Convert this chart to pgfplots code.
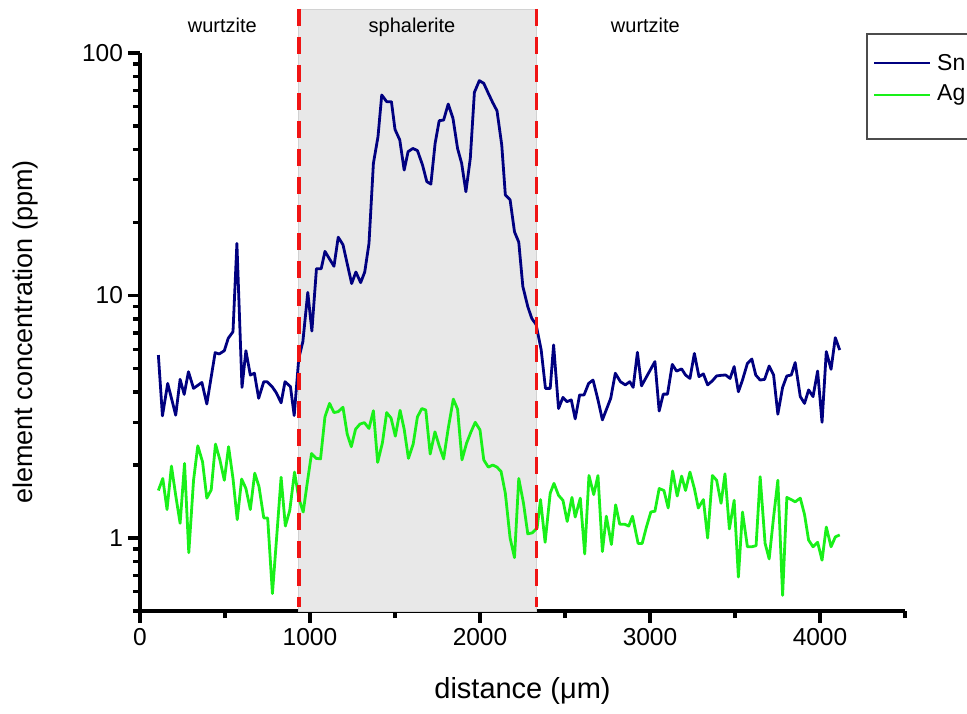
\documentclass[border=0pt]{standalone}
\usepackage{fontspec}
\setmainfont{Liberation Sans}
\usepackage{pgfplots}
\pgfplotsset{compat=1.18}
\definecolor{snblue}{RGB}{0,0,128}
\definecolor{aggreen}{RGB}{25,240,25}
\definecolor{redline}{RGB}{240,20,20}
\definecolor{regionfill}{RGB}{232,232,232}
\pgfplotstableread{
x y
108 5.68
132 3.19
163 4.34
210 3.21
236 4.51
260 3.91
285 4.85
315 4.14
364 4.38
393 3.57
442 5.81
466 5.74
496 5.92
519 6.66
547 7.09
570 16.4
600 4.18
623 5.92
649 4.70
673 4.78
698 3.77
728 4.41
747 4.41
777 4.21
802 3.97
830 3.61
853 4.41
885 4.21
907 3.20
934 5.51
958 6.45
987 10.3
1011 7.14
1038 12.9
1066 12.9
1088 15.2
1141 13.2
1166 17.4
1194 16.2
1245 11.2
1270 12.5
1298 11.3
1322 12.5
1347 16.4
1373 35.1
1400 45.2
1422 67.1
1451 63.0
1479 63.0
1500 48.4
1528 43.8
1554 32.9
1577 39.2
1605 40.4
1632 39.6
1662 34.5
1687 29.5
1711 28.8
1736 42.4
1760 52.6
1786 52.9
1813 61.6
1841 53.8
1868 40.4
1892 35.1
1917 26.8
1943 36.8
1967 68.8
1996 76.9
2022 75.0
2049 68.2
2075 62.4
2100 57.8
2128 41.7
2149 26.0
2177 24.8
2203 18.3
2228 16.6
2252 10.9
2281 9.0
2305 8.03
2330 7.6
2360 5.96
2385 4.14
2413 4.14
2433 6.25
2462 3.42
2488 3.80
2511 3.65
2537 3.71
2560 3.10
2586 3.89
2612 3.89
2639 4.34
2665 4.48
2694 3.71
2720 3.07
2769 3.77
2796 4.78
2826 4.41
2855 4.28
2881 4.41
2901 4.18
2926 5.83
2950 4.24
3029 5.34
3054 3.34
3078 3.92
3103 3.92
3131 5.20
3156 4.88
3186 4.98
3209 4.70
3235 4.55
3261 5.77
3288 4.63
3314 4.75
3339 4.28
3367 4.45
3392 4.66
3422 4.69
3445 4.70
3471 4.55
3495 5.09
3520 4.01
3544 4.48
3573 5.25
3599 5.47
3622 4.70
3648 4.48
3674 4.51
3701 5.12
3727 4.70
3752 3.24
3780 4.18
3805 4.66
3831 4.70
3854 5.29
3884 3.83
3909 3.59
3933 4.08
3959 3.83
3986 4.88
4012 3.00
4037 5.87
4065 4.96
4090 6.70
4116 5.96
}\sndata
\pgfplotstableread{
x y
108 1.57
134 1.76
159 1.31
185 1.98
210 1.50
236 1.15
262 2.03
287 0.87
315 1.73
340 2.40
368 2.06
393 1.46
419 1.58
444 2.44
470 2.10
496 1.73
521 2.38
547 1.76
572 1.19
598 1.75
623 1.60
649 1.31
675 1.85
700 1.63
728 1.21
751 1.21
779 0.59
804 1.01
830 1.78
855 1.12
881 1.30
909 1.87
934 1.46
960 1.28
985 1.71
1009 2.23
1036 2.13
1062 2.12
1088 3.16
1115 3.59
1141 3.29
1166 3.32
1194 3.46
1219 2.68
1243 2.38
1268 2.81
1294 2.95
1320 2.99
1347 2.83
1373 3.35
1398 2.05
1426 2.47
1451 3.29
1477 3.12
1502 2.63
1530 3.36
1554 2.81
1579 2.13
1607 2.44
1632 3.16
1658 3.42
1681 3.37
1707 2.22
1735 2.74
1760 2.40
1786 2.12
1813 2.83
1843 3.74
1868 3.40
1894 2.10
1921 2.46
1947 2.74
1972 3.00
2000 2.79
2022 2.10
2049 1.96
2075 2.00
2100 1.96
2124 1.88
2149 1.53
2177 1.00
2203 0.83
2228 1.76
2256 1.39
2281 1.04
2307 1.05
2336 1.10
2356 1.44
2383 0.96
2413 1.53
2435 1.68
2462 1.50
2488 1.43
2513 1.17
2541 1.47
2560 1.22
2590 1.46
2616 0.86
2641 1.81
2669 1.51
2694 1.81
2720 0.88
2743 1.23
2773 0.94
2798 1.37
2822 1.14
2851 1.14
2875 1.12
2897 1.23
2930 0.95
2954 0.95
2979 1.11
3005 1.28
3029 1.29
3054 1.60
3082 1.57
3107 1.33
3133 1.89
3160 1.49
3186 1.80
3209 1.57
3235 1.87
3261 1.60
3284 1.33
3314 1.44
3339 1.00
3367 1.81
3392 1.73
3418 1.39
3441 1.84
3467 1.09
3495 1.43
3520 0.69
3544 1.28
3573 0.92
3599 0.92
3624 0.93
3648 1.79
3677 0.95
3701 0.82
3727 1.22
3752 1.73
3780 0.58
3805 1.47
3831 1.44
3854 1.41
3884 1.46
3909 1.25
3933 0.98
3959 0.92
3986 0.96
4012 0.81
4037 1.11
4065 0.92
4090 1.01
4116 1.03
}\agdata
\begin{document}
\begin{tikzpicture}
\path[use as bounding box] (0,0) rectangle (967pt,713pt);
\clip (0,0) rectangle (967pt,713pt);
\begin{axis}[
  every axis/.append style={line width=3.5pt},
  at={(140pt,102pt)}, anchor=south west,
  scale only axis, width=765pt, height=558pt,
  ymode=log, xmin=0, xmax=4500, ymin=0.5, ymax=100,
  axis x line*=bottom, axis y line*=left,
  axis line style={line width=3.5pt, black},
  x axis line style={line width=3.5pt},
  y axis line style={line width=3.5pt},
  xtick={0,1000,2000,3000,4000},
  xticklabels={0,1000,2000,3000,4000},
  minor xtick={500,1500,2500,3500,4500},
  ytick={1,10,100}, yticklabels={1,10,100},
  minor ytick={0.5,0.6,0.7,0.8,0.9,2,3,4,5,6,7,8,9,20,30,40,50,60,70,80,90},
  tick align=outside,
  major tick length=12pt, minor tick length=7pt,
  every tick/.append style={black, line width=3.2pt},
  every major tick/.append style={line width=3.2pt},
  every minor tick/.append style={line width=3.2pt},
  tick label style={font=\fontsize{24.5}{28}\selectfont},
  /pgf/number format/assume math mode=true,
  xlabel={distance (μm)}, ylabel={element concentration (ppm)},
  xlabel style={font=\fontsize{29}{34}\selectfont, at={(axis description cs:0.5,-0.1434)}, anchor=center},
  ylabel style={font=\fontsize{27}{32}\selectfont, at={(axis description cs:-0.1503,0.5)}, anchor=center},
  clip=false,
]
\fill[regionfill, draw=gray!35, line width=0.6pt] (axis cs:934,0.5) rectangle (axis cs:2333,152);
\addplot[snblue, line width=2.8pt, line join=round, mark=none] table[x=x,y=y] {\sndata};
\addplot[aggreen, line width=2.8pt, line join=round, mark=none] table[x=x,y=y] {\agdata};
\draw[redline, line width=3.6pt, dash pattern=on 17pt off 11pt] (axis cs:934,152) -- (axis cs:934,0.52);
\draw[redline, line width=3.6pt, dash pattern=on 17pt off 11pt] (axis cs:2333,152) -- (axis cs:2333,0.52);
\node[anchor=base, font=\fontsize{20}{24}\selectfont] at (axis cs:484,121) {wurtzite};
\node[anchor=base, font=\fontsize{20}{24}\selectfont] at (axis cs:1600,121) {sphalerite};
\node[anchor=base, font=\fontsize{20}{24}\selectfont] at (axis cs:2973,121) {wurtzite};
\end{axis}
\draw[black!70, line width=1.4pt, fill=white] (867pt,679pt) rectangle (1010pt,574pt);
\draw[snblue, line width=2.8pt] (874pt,650pt) -- (930pt,650pt);
\node[anchor=west, inner sep=0pt, font=\fontsize{23}{27}\selectfont] at (937pt,650pt) {Sn};
\draw[aggreen, line width=2.8pt] (874pt,618pt) -- (930pt,618pt);
\node[anchor=west, inner sep=0pt, font=\fontsize{23}{27}\selectfont] at (937pt,618pt) {Ag};
\end{tikzpicture}
\end{document}
